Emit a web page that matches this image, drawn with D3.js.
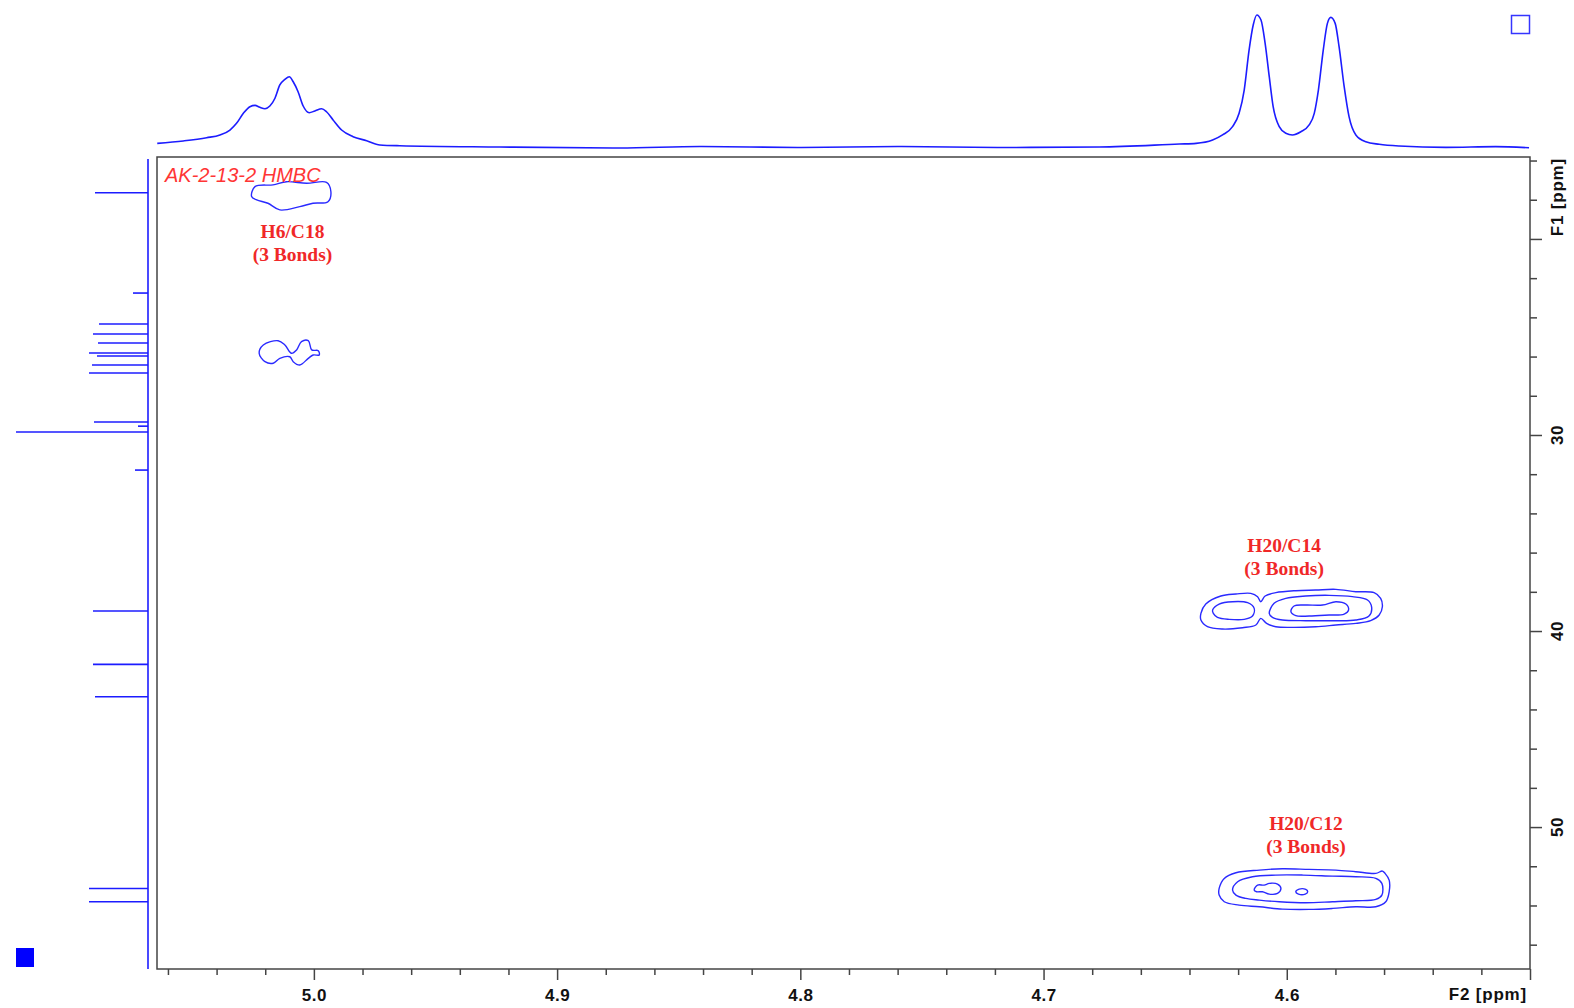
<!DOCTYPE html>
<html><head><meta charset="utf-8">
<script src="https://cdn.jsdelivr.net/npm/d3@7"></script>
<style>html,body{margin:0;padding:0;background:#fff;}svg{display:block;}</style>
</head><body>
<svg id="c" width="1574" height="1008"></svg>
<script>
// ---------- data ----------
const f2Domain = [5.0645, 4.50];
const f1Domain = [15.82, 57.24];
const f2MajorTicks = [5.0, 4.9, 4.8, 4.7, 4.6, 4.5];
const f2TickLabels = ["5.0", "4.9", "4.8", "4.7", "4.6", ""];
const f1MajorTicks = [20, 30, 40, 50];
const f1TickLabels = ["", "30", "40", "50"];
const f2Unit = "F2 [ppm]";
const f1Unit = "F1 [ppm]";
const title = "AK-2-13-2 HMBC";

// 1H projection (top): ppm and relative intensity
const protonPpm = [5.0644,5.0537,5.0441,5.0386,5.0345,5.0318,5.0290,5.0263,5.0242,5.0222,5.0201,5.0181,5.0160,5.0140,5.0119,5.0101,5.0085,5.0065,5.0044,5.0019,4.9996,4.9968,4.9948,4.9921,4.9886,4.9839,4.9783,4.9729,4.9647,4.9236,4.8743,4.8414,4.8003,4.7592,4.7182,4.6771,4.6442,4.6373,4.6305,4.6264,4.6223,4.6196,4.6175,4.6155,4.6138,4.6123,4.6106,4.6089,4.6072,4.6056,4.6031,4.6004,4.5977,4.5942,4.5908,4.5887,4.5870,4.5850,4.5833,4.5819,4.5801,4.5785,4.5764,4.5744,4.5716,4.5675,4.5620,4.5538,4.5346,4.5141,4.5004];
const protonInt = [3.5,5.3,7.7,9.8,13.5,18.5,26.0,31.0,32.0,30.5,29.5,31.5,37.3,47.3,51.5,53.5,49.7,42.2,31.5,26.5,27.8,29.5,27.2,21.0,13.5,8.5,5.5,2.3,1.7,0.75,0.0,1.1,0.4,1.1,0.4,0.75,3.0,3.5,6.0,9.8,16.0,26.0,43.5,73.5,92.3,99.8,96.0,78.5,53.5,31.0,16.0,11.0,9.8,12.2,17.3,26.0,43.5,73.5,93.5,98.0,93.5,76.0,46.0,23.5,9.8,4.7,2.8,1.5,0.5,1.0,0.2];

// 13C projection (left): peak positions and heights
const carbonPpm = [17.64,22.76,24.34,24.85,25.31,25.82,25.97,26.43,26.84,29.34,29.55,29.85,31.79,38.98,41.70,43.35,53.13,53.81];
const carbonInt = [53,15,49,55,50,59,51,56,59,54,10,132,13,55,55,53,59,59];

// cross-peak contours [F2 ppm, F1 ppm]
const contourH6C18 = [[5.0256,17.84],[5.0242,17.33],[5.0168,17.24],[5.0112,17.08],[5.0030,17.16],[4.9948,17.11],[4.9930,17.59],[4.9942,18.10],[5.0004,18.18],[5.0058,18.35],[5.0140,18.52],[5.0189,18.18],[5.0235,18.01]];
const contourH6C18b = [[5.0225,25.83],[5.0208,25.41],[5.0147,25.19],[5.0119,25.41],[5.0092,25.83],[5.0071,25.66],[5.0051,25.24],[5.0023,25.19],[5.0009,25.66],[4.9982,25.70],[4.9978,25.92],[5.0003,25.92],[5.0023,26.09],[5.0058,26.43],[5.0085,26.26],[5.0099,26.01],[5.0140,26.09],[5.0167,26.34],[5.0201,26.26]];
const contourH20C14Outer = [[4.6353,39.099],[4.6333,38.623],[4.6271,38.214],[4.6209,38.112],[4.6148,38.078],[4.6120,38.248],[4.6107,38.503],[4.6089,38.214],[4.6045,38.044],[4.5963,37.942],[4.5881,37.908],[4.5798,37.874],[4.5716,37.993],[4.5641,38.044],[4.5614,38.333],[4.5607,38.759],[4.5620,39.184],[4.5655,39.473],[4.5716,39.609],[4.5798,39.694],[4.5881,39.779],[4.5977,39.813],[4.6045,39.779],[4.6083,39.609],[4.6107,39.354],[4.6127,39.694],[4.6182,39.830],[4.6264,39.898],[4.6326,39.779],[4.6353,39.439]];
const contourH20C14Left = [[4.6305,38.929],[4.6278,38.623],[4.6223,38.503],[4.6161,38.555],[4.6134,38.844],[4.6141,39.235],[4.6175,39.405],[4.6237,39.405],[4.6285,39.303],[4.6302,39.099]];
const contourH20C14Right = [[4.6072,39.099],[4.6052,38.589],[4.6004,38.333],[4.5922,38.214],[4.5826,38.180],[4.5730,38.248],[4.5668,38.418],[4.5651,38.793],[4.5662,39.235],[4.5716,39.439],[4.5812,39.473],[4.5922,39.473],[4.6018,39.439],[4.6059,39.303]];
const contourH20C14Inner = [[4.5983,39.014],[4.5970,38.725],[4.5922,38.674],[4.5853,38.674],[4.5798,38.503],[4.5757,38.623],[4.5746,38.929],[4.5764,39.133],[4.5826,39.184],[4.5908,39.235],[4.5963,39.218]];
const contourH20C12Outer = [[4.6278,53.130],[4.6257,52.619],[4.6209,52.330],[4.6113,52.194],[4.6018,52.126],[4.5908,52.160],[4.5798,52.194],[4.5716,52.279],[4.5634,52.364],[4.5607,52.245],[4.5596,52.364],[4.5579,52.704],[4.5579,53.300],[4.5593,53.810],[4.5634,54.065],[4.5716,54.065],[4.5812,54.150],[4.5908,54.201],[4.6018,54.184],[4.6113,54.065],[4.6196,53.980],[4.6257,53.810],[4.6278,53.470]];
const contourH20C12Mid = [[4.6223,53.215],[4.6202,52.789],[4.6141,52.534],[4.6045,52.449],[4.5935,52.449],[4.5812,52.500],[4.5716,52.534],[4.5634,52.619],[4.5609,52.874],[4.5609,53.470],[4.5634,53.691],[4.5716,53.759],[4.5812,53.810],[4.5922,53.861],[4.6031,53.810],[4.6113,53.725],[4.6168,53.640],[4.6209,53.470]];
const contourH20C12InnerA = [[4.6134,53.215],[4.6120,52.960],[4.6093,52.960],[4.6072,52.874],[4.6038,52.908],[4.6024,53.130],[4.6038,53.385],[4.6072,53.419],[4.6100,53.300],[4.6124,53.300]];
const contourH20C12InnerB = [[4.5963,53.300],[4.5949,53.164],[4.5922,53.181],[4.5914,53.300],[4.5924,53.419],[4.5952,53.419]];

// annotations
const peakLabels = ["H6/C18", "H20/C14", "H20/C12"];
const peakSubLabels = ["(3 Bonds)", "(3 Bonds)", "(3 Bonds)"];
const peakLabelF2 = [5.0088, 4.6011, 4.5921];
const peakLabelF1 = [19.95, 35.97, 50.15];

// ---------- drawing ----------
const svg = d3.select("#c");
const L = 157, R = 1530, T = 157, B = 969;
const blue = "#1c1cff";
const axisCol = "#444";

const x = d3.scaleLinear().domain(f2Domain).range([L, R]);
const y = d3.scaleLinear().domain(f1Domain).range([T, B]);
const yTop = d3.scaleLinear().domain([0, 100]).range([148, 14.7]);
const xLeft = d3.scaleLinear().domain([0, 132]).range([148, 16]);

// top projection
const protonData = protonPpm.map((p, i) => [p, protonInt[i]]);
svg.append("path").datum(protonData)
  .attr("d", d3.line().x(d => x(d[0])).y(d => yTop(d[1])).curve(d3.curveMonotoneX))
  .attr("fill", "none").attr("stroke", blue).attr("stroke-width", 1.6);

// left projection
svg.append("line").attr("x1", xLeft(0)).attr("x2", xLeft(0))
  .attr("y1", y(f1Domain[0]) + 2).attr("y2", y(f1Domain[1]))
  .attr("stroke", blue).attr("stroke-width", 1.6);
svg.selectAll(".cpk").data(carbonPpm).join("line")
  .attr("x1", xLeft(0)).attr("x2", (d, i) => xLeft(carbonInt[i]))
  .attr("y1", d => y(d)).attr("y2", d => y(d))
  .attr("stroke", blue).attr("stroke-width", 1.6);

// frame
svg.append("rect").attr("x", L).attr("y", T).attr("width", R - L).attr("height", B - T)
  .attr("fill", "none").attr("stroke", axisCol).attr("stroke-width", 1.5);

// contours
const cline = d3.line().x(d => x(d[0])).y(d => y(d[1])).curve(d3.curveCatmullRomClosed.alpha(0.5));
const contours = [contourH6C18, contourH6C18b, contourH20C14Outer, contourH20C14Left, contourH20C14Right, contourH20C14Inner, contourH20C12Outer, contourH20C12Mid, contourH20C12InnerA, contourH20C12InnerB];
svg.selectAll(".ct").data(contours).join("path")
  .attr("d", cline).attr("fill", "none").attr("stroke", "#2a2aff").attr("stroke-width", 1.4);

// title
svg.append("text").attr("x", L + 8).attr("y", T + 25).text(title)
  .attr("font-family", "Liberation Sans, Arial, sans-serif").attr("font-style", "italic")
  .attr("font-size", 20).attr("fill", "#ff3535");

// labels
peakLabels.forEach((t, i) => {
  const g = svg.append("text").attr("text-anchor", "middle")
    .attr("font-family", "Liberation Serif, Times New Roman, serif").attr("font-weight", "bold")
    .attr("font-size", 19.5).attr("fill", "#f02828");
  g.append("tspan").attr("x", x(peakLabelF2[i])).attr("y", y(peakLabelF1[i])).text(t);
  g.append("tspan").attr("x", x(peakLabelF2[i])).attr("dy", 23).text(peakSubLabels[i]);
});

// bottom axis
const f2Minor = d3.range(5.06, 4.505, -0.02).filter(v => Math.abs(Math.round(v * 10) - v * 10) > 1e-6);
const bottom = svg.append("g").attr("transform", `translate(0,${B})`);
bottom.call(d3.axisBottom(x).tickValues(f2Minor).tickSize(6).tickFormat(""));
bottom.call(g => g.select(".domain").remove());
const bottomMaj = svg.append("g").attr("transform", `translate(0,${B})`);
bottomMaj.call(d3.axisBottom(x).tickValues(f2MajorTicks).tickSize(11).tickPadding(9)
  .tickFormat((d, i) => f2TickLabels[i]));
bottomMaj.select(".domain").remove();
[bottom, bottomMaj].forEach(g => g.selectAll("line").attr("stroke", axisCol).attr("stroke-width", 1.5));
bottomMaj.selectAll("text").attr("font-family", "Liberation Sans, Arial, sans-serif")
  .attr("font-weight", "bold").attr("font-size", 17).attr("fill", "#111").attr("letter-spacing", 0.5);
svg.append("text").attr("x", R - 3).attr("y", 1000).attr("text-anchor", "end").text(f2Unit)
  .attr("font-family", "Liberation Sans, Arial, sans-serif").attr("font-weight", "bold")
  .attr("font-size", 17).attr("letter-spacing", 0.8).attr("fill", "#111");

// right axis
const f1Minor = d3.range(16, 57, 2).filter(v => v % 10 !== 0);
const right = svg.append("g").attr("transform", `translate(${R},0)`);
right.call(d3.axisRight(y).tickValues(f1Minor).tickSize(7).tickFormat(""));
right.select(".domain").remove();
const rightMaj = svg.append("g").attr("transform", `translate(${R},0)`);
rightMaj.call(d3.axisRight(y).tickValues(f1MajorTicks).tickSize(12).tickFormat(""));
rightMaj.select(".domain").remove();
[right, rightMaj].forEach(g => g.selectAll("line").attr("stroke", axisCol).attr("stroke-width", 1.5));
f1MajorTicks.forEach((v, i) => {
  if (!f1TickLabels[i]) return;
  svg.append("text").attr("transform", `translate(1563,${y(v)}) rotate(-90)`)
    .attr("text-anchor", "middle").text(f1TickLabels[i])
    .attr("font-family", "Liberation Sans, Arial, sans-serif").attr("font-weight", "bold")
    .attr("font-size", 17).attr("letter-spacing", 0.5).attr("fill", "#111");
});
svg.append("text").attr("transform", `translate(1563,${T + 1}) rotate(-90)`)
  .attr("text-anchor", "end").text(f1Unit)
  .attr("font-family", "Liberation Sans, Arial, sans-serif").attr("font-weight", "bold")
  .attr("font-size", 17).attr("letter-spacing", 0.8).attr("fill", "#111");

// corner markers
svg.append("rect").attr("x", 1511.5).attr("y", 15.5).attr("width", 18).attr("height", 18)
  .attr("fill", "none").attr("stroke", "#3535ff").attr("stroke-width", 1.5);
svg.append("rect").attr("x", 16).attr("y", 948).attr("width", 18).attr("height", 19).attr("fill", "#0000ff");
</script>
</body></html>
